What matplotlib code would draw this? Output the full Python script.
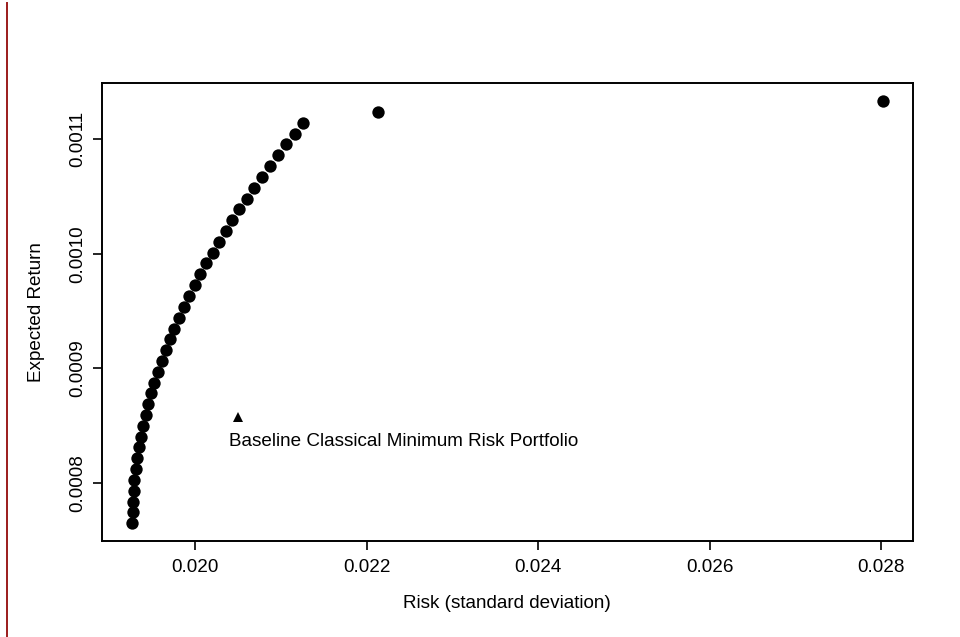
import matplotlib
matplotlib.use("Agg")
import matplotlib.pyplot as plt
from matplotlib.lines import Line2D

plt.rcParams['font.family'] = ['Liberation Sans', 'DejaVu Sans']

# Efficient frontier points (risk = standard deviation, expected return)
frontier_risk = [
    0.019270, 0.019272, 0.019276, 0.019284, 0.019294, 0.019308, 0.019325, 0.019345,
    0.019368, 0.019394, 0.019423, 0.019455, 0.019490, 0.019527, 0.019568, 0.019612,
    0.019658, 0.019708, 0.019760, 0.019815, 0.019873, 0.019934, 0.019998, 0.020064,
    0.020133, 0.020205, 0.020279, 0.020356, 0.020436, 0.020518, 0.020602, 0.020690,
    0.020779, 0.020871, 0.020966, 0.021063, 0.021162, 0.021263, 0.022138, 0.028019,
]
frontier_return = [
    0.0007650, 0.0007744, 0.0007839, 0.0007933, 0.0008027, 0.0008122, 0.0008216, 0.0008311,
    0.0008405, 0.0008499, 0.0008594, 0.0008688, 0.0008782, 0.0008877, 0.0008971, 0.0009065,
    0.0009160, 0.0009254, 0.0009348, 0.0009443, 0.0009537, 0.0009632, 0.0009726, 0.0009820,
    0.0009915, 0.0010009, 0.0010103, 0.0010198, 0.0010292, 0.0010386, 0.0010481, 0.0010575,
    0.0010669, 0.0010764, 0.0010858, 0.0010953, 0.0011047, 0.0011141, 0.0011237, 0.0011331,
]

baseline_risk = [0.020501]
baseline_return = [0.0008579]
baseline_label = "Baseline Classical Minimum Risk Portfolio"
label_pos = (0.020400, 0.0008367)

xticks = [0.020, 0.022, 0.024, 0.026, 0.028]
xtick_labels = ["0.020", "0.022", "0.024", "0.026", "0.028"]
yticks = [0.0008, 0.0009, 0.0010, 0.0011]
ytick_labels = ["0.0008", "0.0009", "0.0010", "0.0011"]

FS = 13.6

fig = plt.figure(figsize=(9.6, 6.37), dpi=100)
ax = fig.add_axes([101.7 / 960, 1 - 540.7 / 637, (912.7 - 101.7) / 960, (540.7 - 83.3) / 637])

ax.plot(frontier_risk, frontier_return, linestyle='none', marker='o', color='black',
        markersize=8.9, markeredgewidth=0)
ax.plot(baseline_risk, baseline_return, linestyle='none', marker='^', color='black',
        markersize=6.8, markeredgewidth=0)
ax.text(label_pos[0], label_pos[1], baseline_label, ha='left', va='center', fontsize=FS)

ax.set_xlim(0.018912, 0.028369)
ax.set_ylim(0.0007498, 0.0011486)
ax.set_xticks(xticks)
ax.set_xticklabels(xtick_labels)
ax.set_yticks(yticks)
ax.set_yticklabels(ytick_labels, rotation=90, va='center')

for side in ax.spines.values():
    side.set_linewidth(1.4)
ax.tick_params(axis='both', length=6.5, width=1.2, labelsize=FS)
ax.tick_params(axis='x', pad=6.5)
ax.tick_params(axis='y', pad=4.5)

ax.set_xlabel("Risk (standard deviation)", fontsize=FS, va='center')
ax.set_ylabel("Expected Return", fontsize=FS, va='center', ha='center')
ax.xaxis.set_label_coords(0.5, (540.7 - 603) / (540.7 - 83.3))
ax.yaxis.set_label_coords((36.7 - 101.7) / 811.0, 0.5)

fig.add_artist(Line2D([6.7 / 960, 6.7 / 960], [0, 1 - 3 / 637], transform=fig.transFigure,
                      color='#9b1b1b', linewidth=1.4))

fig.savefig("out.png", dpi=100)
